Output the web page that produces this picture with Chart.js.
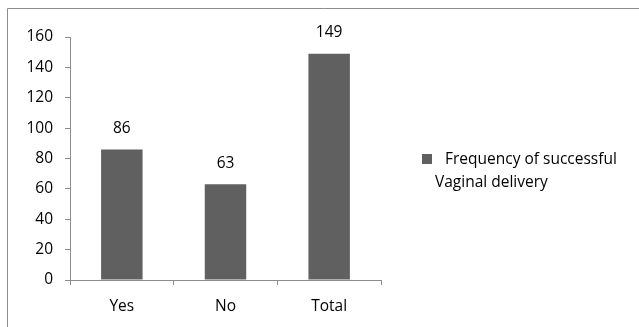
<!DOCTYPE html>
<html>
<head>
<meta charset="utf-8">
<script src="https://cdn.jsdelivr.net/npm/chart.js@4/dist/chart.umd.min.js"></script>
<style>
  html, body { margin: 0; padding: 0; background: #fff; }
  #wrap { position: relative; width: 639px; height: 327px; }
  #legend { position: absolute; left: 422px; top: 147px; font: 15.5px "Open Sans", sans-serif; color: #000; line-height: 23px; }
  #legend .sw { display: inline-block; width: 10px; height: 10px; margin-right: 13px; vertical-align: 0px; }
  #legend .l2 { padding-left: 13px; }
</style>
</head>
<body>
<div id="wrap">
  <canvas id="c" width="639" height="327"></canvas>
  <div id="legend"></div>
</div>
<script>
const categories = ["Yes", "No", "Total"];
const frequency = [86, 63, 149];
const seriesName = ["Frequency of successful", "Vaginal delivery"];
const yTicks = [0, 20, 40, 60, 80, 100, 120, 140, 160];

const barColor = "#606060";
const axisColor = "#8c8c8c";
const fontFamily = '"Open Sans", sans-serif';
const fontSize = 15.5;

// outer frame line (top and left edges)
const framePlugin = {
  id: "frame",
  beforeDraw(chart) {
    const ctx = chart.ctx;
    ctx.save();
    ctx.strokeStyle = axisColor;
    ctx.lineWidth = 1;
    ctx.beginPath();
    ctx.moveTo(7.5, chart.height);
    ctx.lineTo(7.5, 8.5);
    ctx.lineTo(chart.width, 8.5);
    ctx.stroke();
    ctx.restore();
  }
};

// value labels above each bar
const valueLabels = {
  id: "valueLabels",
  afterDatasetsDraw(chart) {
    const ctx = chart.ctx;
    ctx.save();
    ctx.font = fontSize + "px " + fontFamily;
    ctx.fillStyle = "#000";
    ctx.textAlign = "center";
    ctx.textBaseline = "middle";
    chart.data.datasets.forEach((ds, i) => {
      chart.getDatasetMeta(i).data.forEach((bar, j) => {
        ctx.fillText(String(ds.data[j]), bar.x, bar.y - 21);
      });
    });
    ctx.restore();
  }
};

const chart = new Chart(document.getElementById("c"), {
  type: "bar",
  data: {
    labels: categories,
    datasets: [{
      label: seriesName.join(" "),
      data: frequency,
      backgroundColor: barColor,
      barPercentage: 0.4,
      categoryPercentage: 1.0
    }]
  },
  options: {
    responsive: false,
    animation: false,
    layout: { padding: { top: 37, right: 258, left: 0, bottom: 0 } },
    plugins: { legend: { display: false }, tooltip: { enabled: false } },
    scales: {
      x: {
        grid: { display: true, drawOnChartArea: false, offset: true, color: axisColor, tickLength: 5 },
        border: { color: axisColor },
        ticks: { color: "#000", font: { family: fontFamily, size: fontSize }, padding: 12 },
        afterFit(scale) { scale.height = 47; }
      },
      y: {
        min: 0, max: 160,
        afterBuildTicks(scale) { scale.ticks = yTicks.map(v => ({ value: v })); },
        grid: { display: true, drawOnChartArea: false, color: axisColor, tickLength: 5 },
        border: { color: axisColor },
        ticks: { color: "#000", font: { family: fontFamily, size: fontSize }, padding: 12 },
        afterFit(scale) { scale.width = 70; }
      }
    }
  },
  plugins: [framePlugin, valueLabels]
});

// legend built from the dataset
const lg = document.getElementById("legend");
const ds = chart.data.datasets[0];
lg.innerHTML = '<div><span class="sw" style="background:' + ds.backgroundColor + '"></span>' + seriesName[0] + '</div>' +
               '<div class="l2">' + seriesName[1] + '</div>';
</script>
</body>
</html>
